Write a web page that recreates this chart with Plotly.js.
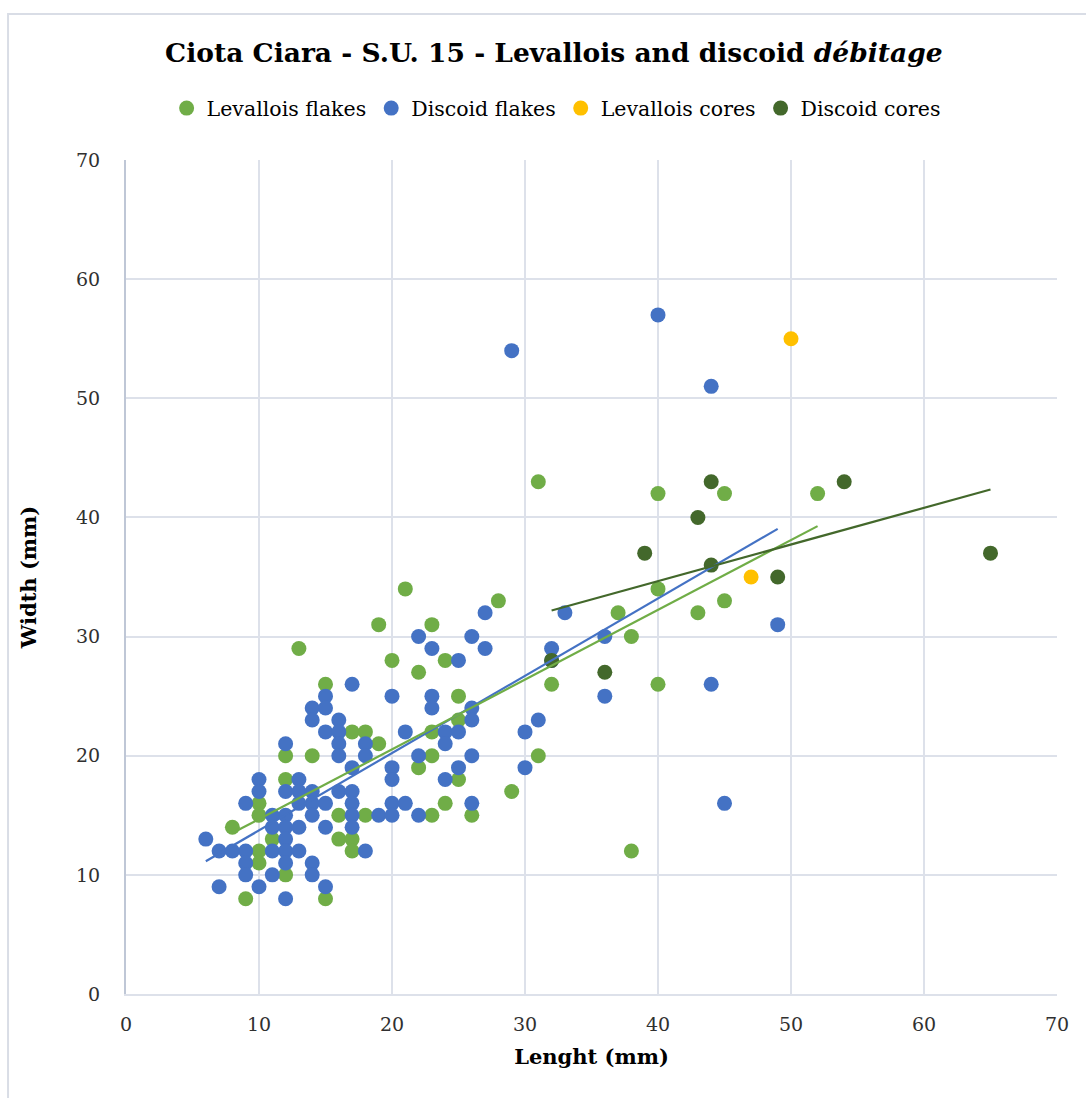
<!DOCTYPE html>
<html>
<head>
<meta charset="utf-8">
<script src="https://cdn.plot.ly/plotly-3.0.1.min.js"></script>
<style>
html,body{margin:0;padding:0;background:#fff;}
#chart{width:1086px;height:1098px;}
</style>
</head>
<body>
<div id="chart"></div>
<script>
// Levallois flakes
const levFlakesX = [8,9,10,10,10,10,11,12,12,12,13,14,15,15,16,16,17,17,17,18,18,19,19,20,21,22,22,23,23,23,23,24,24,25,25,25,26,28,29,31,31,32,37,38,38,40,40,40,43,45,45,52];
const levFlakesY = [14,8,16,15,12,11,13,20,18,10,29,20,26,8,15,13,22,13,12,22,15,31,21,28,34,27,19,31,22,20,15,28,16,25,23,18,15,33,17,43,20,26,32,30,12,42,34,26,32,42,33,42];
// Discoid flakes
const discFlakesX = [6,7,7,8,9,9,9,9,10,10,10,11,11,11,11,12,12,12,12,12,12,12,12,13,13,13,13,13,14,14,14,14,14,14,14,15,15,15,15,15,15,16,16,16,16,16,17,17,17,17,17,17,18,18,18,19,20,20,20,20,20,21,21,22,22,22,23,23,23,24,24,24,25,25,25,26,26,26,26,26,27,27,29,30,30,31,32,32,33,36,36,40,44,44,45,49];
const discFlakesY = [13,12,9,12,16,12,11,10,18,17,9,15,14,12,10,21,17,15,14,13,12,11,8,18,17,16,14,12,24,23,17,16,15,11,10,25,24,22,16,14,9,23,22,21,20,17,26,19,17,16,15,14,21,20,12,15,25,19,18,16,15,22,16,30,20,15,29,25,24,22,21,18,28,22,19,30,24,23,20,16,32,29,54,22,19,23,29,28,32,30,25,57,51,26,16,31];
// Levallois cores
const levCoresX = [47,50];
const levCoresY = [35,55];
// Discoid cores
const discCoresX = [32,36,39,43,44,44,49,54,65];
const discCoresY = [28,27,37,40,43,36,35,43,37];

const seriesNames = ["Levallois flakes","Discoid flakes","Levallois cores","Discoid cores"];
const colors = ["#70ad47","#4472c4","#ffc000","#43682b"];

function fit(xs, ys){
  const n = xs.length;
  let sx=0, sy=0, sxx=0, sxy=0;
  for(let i=0;i<n;i++){sx+=xs[i];sy+=ys[i];sxx+=xs[i]*xs[i];sxy+=xs[i]*ys[i];}
  const b = (n*sxy - sx*sy)/(n*sxx - sx*sx);
  const a = (sy - b*sx)/n;
  const x0 = Math.min(...xs), x1 = Math.max(...xs);
  return {x:[x0,x1], y:[a+b*x0, a+b*x1]};
}

const font = "'DejaVu Serif', 'Liberation Serif', serif";
const sets = [[levFlakesX,levFlakesY],[discFlakesX,discFlakesY],[levCoresX,levCoresY],[discCoresX,discCoresY]];
const traces = [];
sets.forEach((s,i)=>{
  traces.push({type:'scatter',mode:'markers',x:s[0],y:s[1],name:seriesNames[i],
    marker:{color:colors[i],size:15,line:{width:0}},cliponaxis:false});
});
const trendIdx = [1,0,3];
trendIdx.forEach(i=>{
  const f = fit(sets[i][0], sets[i][1]);
  traces.push({type:'scatter',mode:'lines',x:f.x,y:f.y,showlegend:false,hoverinfo:'skip',
    line:{color:colors[i],width:2.2}});
});

const layout = {
  width:1086,height:1098,
  paper_bgcolor:'#ffffff',plot_bgcolor:'#ffffff',
  margin:{l:126,r:29,t:160,b:104},
  font:{family:font,color:'#404040',size:19},
  title:{text:"<b>Ciota Ciara - S.U. 15 - Levallois and discoid <i>débitage</i></b>",
    font:{family:font,size:26.5,color:'#000000'},x:0.51,xanchor:'center',y:0.952,yanchor:'middle'},
  showlegend:true,
  legend:{orientation:'h',x:0.462,xanchor:'center',y:1.062,yanchor:'middle',
    font:{family:font,size:20.5,color:'#000000'},itemwidth:20,traceorder:'normal'},
  xaxis:{range:[0,70],dtick:10,tick0:0,showgrid:true,gridcolor:'#dde1ea',gridwidth:2,
    zeroline:false,showline:true,linecolor:'#dde1ea',linewidth:2,ticks:'',
    tickfont:{family:font,size:19,color:'#303030'},ticklabelstandoff:12,
    title:{text:"<b>Lenght (mm)</b>",font:{family:font,size:21,color:'#000000'},standoff:16},
    fixedrange:true},
  yaxis:{range:[0,70],dtick:10,tick0:0,showgrid:true,gridcolor:'#dde1ea',gridwidth:2,
    zeroline:false,showline:true,linecolor:'#bfc7d6',linewidth:2,ticks:'',
    tickfont:{family:font,size:19,color:'#303030'},ticklabelstandoff:20,
    title:{text:"<b>Width (mm)</b>",font:{family:font,size:21,color:'#000000'},standoff:34},
    fixedrange:true},
  shapes:[{type:'rect',xref:'paper',yref:'paper',x0:-0.1267,x1:1.2,y0:-0.3,y1:1.175,
    line:{color:'#d9dde6',width:2},fillcolor:'rgba(0,0,0,0)',layer:'below'}]
};
Plotly.newPlot('chart',traces,layout,{displayModeBar:false,staticPlot:true});
</script>
</body>
</html>
